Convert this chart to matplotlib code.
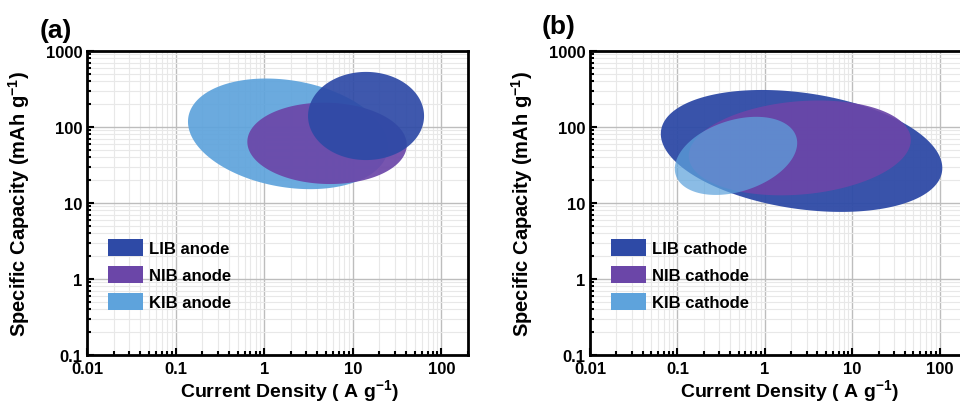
import numpy as np
import matplotlib
matplotlib.use("Agg")
import matplotlib.pyplot as plt
from matplotlib.patches import Patch

plt.rcParams['font.family'] = ['Liberation Sans', 'DejaVu Sans']
plt.rcParams['font.weight'] = 'bold'
plt.rcParams['mathtext.fontset'] = 'custom'
plt.rcParams['mathtext.rm'] = 'Liberation Sans:bold'
plt.rcParams['mathtext.bf'] = 'Liberation Sans:bold'

# --- data (ellipse regions, in decades of log10) ---
labels = ['LIB', 'NIB', 'KIB']
colors = ['#2e4aa6', '#6b46a8', '#5ea3dc']

# anode regions
anode_logx = [1.15, 0.71, 0.27]       # centre, log10(A g-1)
anode_logy = [2.145, 1.785, 1.91]     # centre, log10(mAh g-1)
anode_halfx = [0.655, 0.90, 1.13]     # half width, decades
anode_halfy = [0.58, 0.535, 0.71]     # half height, decades
anode_tilt = [0.0, -0.02, -0.16]      # shear of the ellipse
anode_alpha = [0.92, 0.92, 0.92]
anode_order = [3, 2, 1]

# cathode regions
cathode_logx = [0.42, 0.40, -0.33]
cathode_logy = [1.685, 1.725, 1.62]
cathode_halfx = [1.61, 1.27, 0.70]
cathode_halfy = [0.77, 0.615, 0.485]
cathode_tilt = [-0.225, 0.105, 0.17]
cathode_alpha = [0.95, 0.92, 0.72]
cathode_order = [1, 2, 3]

xticks = [0.01, 0.1, 1, 10, 100]
xticklabels = ['0.01', '0.1', '1', '10', '100']
yticks = [0.1, 1, 10, 100, 1000]
yticklabels = ['0.1', '1', '10', '100', '1000']


def draw_region(ax, cx, cy, hx, hy, tilt, color, alpha, z):
    t = np.linspace(0, 2 * np.pi, 300)
    lx = cx + hx * np.cos(t)
    ly = cy + hy * np.sin(t) + tilt * np.cos(t)
    ax.fill(10 ** lx, 10 ** ly, color=color, alpha=alpha, lw=0, zorder=z)


def setup_axes(ax, xmax):
    ax.set_xscale('log')
    ax.set_yscale('log')
    ax.set_xlim(0.01, xmax)
    ax.set_ylim(0.1, 1000)
    ax.set_xticks(xticks)
    ax.set_xticklabels(xticklabels)
    ax.set_yticks(yticks)
    ax.set_yticklabels(yticklabels)
    ax.grid(which='major', color='#bdbdbd', lw=1.0, zorder=0)
    ax.grid(which='minor', color='#e8e8e8', lw=0.8, zorder=0)
    ax.set_axisbelow(True)
    ax.tick_params(which='both', direction='in', top=False, right=False,
                   labelsize=12, width=1.5)
    ax.tick_params(axis='x', which='both', pad=4.5)
    ax.tick_params(axis='y', which='both', pad=3.5)
    ax.tick_params(which='major', length=5)
    ax.tick_params(which='minor', length=3)
    for s in ax.spines.values():
        s.set_linewidth(2)
    ax.set_xlabel('Current Density ( A g$^{-1}$)', fontsize=14, fontweight='bold')
    ax.set_ylabel('Specific Capacity (mAh g$^{-1}$)', fontsize=14.5, fontweight='bold')
    ax.xaxis.set_label_coords(0.53, -0.074)
    ax.yaxis.set_label_coords(-0.145, 0.5)


fig = plt.figure(figsize=(9.6, 4.06), dpi=100)
ax1 = fig.add_axes([87 / 960, 1 - 356 / 406, 381 / 960, 304 / 406])
ax2 = fig.add_axes([590 / 960, 1 - 356 / 406, 376 / 960, 304 / 406])

for ax in (ax1, ax2):
    setup_axes(ax, 200)

for i in range(3):
    draw_region(ax1, anode_logx[i], anode_logy[i], anode_halfx[i], anode_halfy[i],
                anode_tilt[i], colors[i], anode_alpha[i], anode_order[i] + 2)
    draw_region(ax2, cathode_logx[i], cathode_logy[i], cathode_halfx[i], cathode_halfy[i],
                cathode_tilt[i], colors[i], cathode_alpha[i], cathode_order[i] + 2)

for ax, kind in ((ax1, 'anode'), (ax2, 'cathode')):
    handles = [Patch(facecolor=c, edgecolor='none') for c in colors]
    ax.legend(handles, [l + ' ' + kind for l in labels], loc='upper left',
              bbox_to_anchor=(0.055, 0.382), frameon=False, borderpad=0,
              borderaxespad=0, handlelength=2.1, handleheight=1.2,
              labelspacing=0.6, handletextpad=0.35,
              prop={'size': 12, 'weight': 'bold'})

fig.text(40 / 960, 1 - 31 / 406, '(a)', fontsize=19, fontweight='bold', va='center')
fig.text(542 / 960, 1 - 27 / 406, '(b)', fontsize=19, fontweight='bold', va='center')

fig.savefig('out.png', dpi=100)
